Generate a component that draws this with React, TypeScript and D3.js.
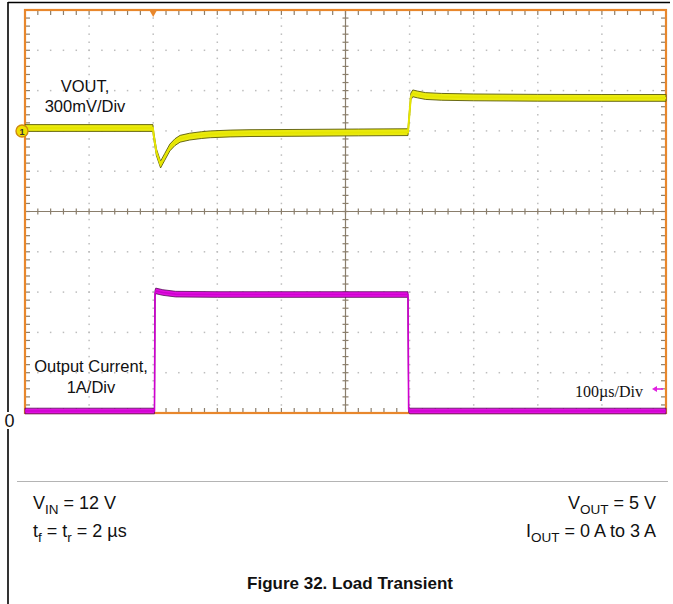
import * as d3 from "d3";
import React, { useEffect, useRef } from "react";

const W = 673;
const H = 604;

// scope screen area
const scrL = 25;
const scrR = 666;
const scrT = 10;
const scrB = 413;
const nX = 10;
const nY = 10;

// 100 us/div -> 0..1000 us across the screen
const timeDomain = [0, 1000];

// VOUT in mV, relative to the level before the load step (300 mV/div)
const voutT = [0, 199.5, 201, 205, 211.5, 218, 226, 234, 242, 257, 275, 289, 320, 351, 429, 520, 597.5, 599.5, 602, 605, 612, 625, 650, 700, 800, 900, 1000];
const voutMv = [0, 0, -60, -180, -272, -215, -145, -105, -80, -64, -53, -47, -41, -38, -36, -33, -31, 90, 235, 258, 250, 238, 232, 228, 225, 224, 224];

// output current in A (1 A/div)
const ioutT = [0, 202, 202.8, 204, 215, 235, 300, 597.5, 598.5, 600, 1000];
const ioutA = [0, 0, 2.92, 2.98, 2.94, 2.9, 2.89, 2.89, 0.04, 0, 0];

const voutLabel = ["VOUT,", "300mV/Div"];
const ioutLabel = ["Output Current,", "1A/Div"];
const timeLabel = "100\u00b5s/Div";
const zeroLabel = "0";
const figTitle = "Figure 32. Load Transient";

const orange = "#e8872c";
const axisCol = "#8a7e6c";
const dotCol = "#bdbdbd";
const sans = "'Liberation Sans', Arial, sans-serif";

export default function App() {
    const svgRef = useRef<SVGSVGElement | null>(null);

    useEffect(() => {
        if (!svgRef.current) return;
        const svg = d3.select(svgRef.current);
        svg.selectAll("*").remove();

        const dx = (scrR - scrL) / nX;
        const dy = (scrB - scrT) / nY;
        const x = d3.scaleLinear().domain(timeDomain).range([scrL, scrR]);
        const yV = d3.scaleLinear().domain([0, 300]).range([128, 128 - dy]);
        const yI = d3.scaleLinear().domain([0, 1]).range([411, 411 - dy]);
        const cx = scrL + dx * 5;
        const cy = scrT + dy * 5;

        /* ---------- page frame ---------- */
        svg.append("rect").attr("width", W).attr("height", H).attr("fill", "#fff");
        svg.append("line").attr("x1", 8).attr("x2", 670).attr("y1", 2.5).attr("y2", 2.5)
            .attr("stroke", "#000").attr("stroke-width", 1.6);
        svg.append("line").attr("x1", 8).attr("x2", 8).attr("y1", 2).attr("y2", H)
            .attr("stroke", "#000").attr("stroke-width", 1.6);

        /* ---------- dotted graticule ---------- */
        const dots = svg.append("g").attr("fill", dotCol);
        for (let k = 1; k < nX; k++) {
            if (k === 5) continue;
            const gx = scrL + k * dx;
            for (let j = 1; j < nY * 5; j++) {
                dots.append("rect").attr("x", gx - 0.75).attr("y", scrT + j * dy / 5 - 0.75)
                    .attr("width", 1.5).attr("height", 1.5);
            }
        }
        for (let k = 1; k < nY; k++) {
            if (k === 5) continue;
            const gy = scrT + k * dy;
            for (let j = 1; j < nX * 5; j++) {
                dots.append("rect").attr("x", scrL + j * dx / 5 - 0.75).attr("y", gy - 0.75)
                    .attr("width", 1.5).attr("height", 1.5);
            }
        }

        /* ---------- centre axes + frame ticks ---------- */
        const ax = svg.append("g").attr("stroke", axisCol).attr("stroke-width", 1.2);
        ax.append("line").attr("x1", cx).attr("x2", cx).attr("y1", scrT).attr("y2", scrB);
        ax.append("line").attr("x1", scrL).attr("x2", scrR).attr("y1", cy).attr("y2", cy);
        for (let j = 1; j < nX * 5; j++) {
            const tx = scrL + j * dx / 5;
            ax.append("line").attr("x1", tx).attr("x2", tx).attr("y1", cy - 3).attr("y2", cy + 3);
            ax.append("line").attr("x1", tx).attr("x2", tx).attr("y1", scrT).attr("y2", scrT + 5);
            ax.append("line").attr("x1", tx).attr("x2", tx).attr("y1", scrB - 5).attr("y2", scrB);
        }
        for (let j = 1; j < nY * 5; j++) {
            const ty = scrT + j * dy / 5;
            ax.append("line").attr("x1", cx - 3).attr("x2", cx + 3).attr("y1", ty).attr("y2", ty);
            ax.append("line").attr("x1", scrL).attr("x2", scrL + 5).attr("y1", ty).attr("y2", ty);
            ax.append("line").attr("x1", scrR - 5).attr("x2", scrR).attr("y1", ty).attr("y2", ty);
        }

        /* ---------- screen border ---------- */
        svg.append("rect").attr("x", scrL).attr("y", scrT)
            .attr("width", scrR - scrL).attr("height", scrB - scrT)
            .attr("fill", "none").attr("stroke", orange).attr("stroke-width", 2.2);

        /* ---------- traces ---------- */
        const voutPts = voutT.map((t, i) => [x(t), yV(voutMv[i])] as [number, number]);
        const ioutPts = ioutT.map((t, i) => [x(t), yI(ioutA[i])] as [number, number]);

        const band = (h: number) =>
            d3.area<[number, number]>().x((d) => d[0]).y0((d) => d[1] + h).y1((d) => d[1] - h);
        const line = d3.line<[number, number]>().x((d) => d[0]).y((d) => d[1]);

        svg.append("path").attr("d", band(2.8)(ioutPts)!)
            .attr("fill", "#e010e0").attr("stroke", "#5a0a5a").attr("stroke-width", 0.8);
        svg.append("path").attr("d", line(ioutPts)!)
            .attr("fill", "none").attr("stroke", "#d000d0").attr("stroke-width", 1.6);

        svg.append("path").attr("d", band(3.4)(voutPts)!)
            .attr("fill", "#eaea10").attr("stroke", "#5a5a08").attr("stroke-width", 0.9);
        svg.append("path").attr("d", line(voutPts)!)
            .attr("fill", "none").attr("stroke", "#e6e600").attr("stroke-width", 2);

        /* ---------- markers ---------- */
        const trigX = x(200);
        svg.append("path")
            .attr("d", `M${trigX - 4.5},${scrT - 1} L${trigX + 4.5},${scrT - 1} L${trigX},${scrT + 7} Z`)
            .attr("fill", orange);

        svg.append("circle").attr("cx", 22).attr("cy", 131).attr("r", 6)
            .attr("fill", "#f0e000").attr("stroke", "#d08a10").attr("stroke-width", 1.4);
        svg.append("text").attr("x", 22).attr("y", 134.5).attr("text-anchor", "middle")
            .attr("font-family", sans).attr("font-size", "9px").attr("font-weight", "bold")
            .attr("fill", "#333").text("1");

        const arrY = 389;
        svg.append("line").attr("x1", 656).attr("x2", 663).attr("y1", arrY).attr("y2", arrY)
            .attr("stroke", "#e020e0").attr("stroke-width", 1.6);
        svg.append("path").attr("d", `M652,${arrY} L657,${arrY - 3} L657,${arrY + 3} Z`)
            .attr("fill", "#e020e0");

        /* ---------- labels ---------- */
        const lab = (tx: number, ty: number, s: string, anchor = "middle") =>
            svg.append("text").attr("x", tx).attr("y", ty).attr("text-anchor", anchor)
                .attr("font-family", sans).attr("font-size", "16.5px").attr("fill", "#111").text(s);

        lab(85, 92, voutLabel[0]);
        lab(85, 112, voutLabel[1]);
        lab(91, 372, ioutLabel[0]);
        lab(91, 393, ioutLabel[1]);

        svg.append("text").attr("x", 643).attr("y", 397).attr("text-anchor", "end")
            .attr("font-family", "'Liberation Serif', 'Times New Roman', serif")
            .attr("font-size", "16px").attr("fill", "#111").text(timeLabel);

        svg.append("rect").attr("x", 3).attr("y", 412).attr("width", 13).attr("height", 17).attr("fill", "#fff");
        lab(9.5, 427, zeroLabel).attr("font-size", "18px");

        /* ---------- conditions ---------- */
        svg.append("line").attr("x1", 17).attr("x2", 668).attr("y1", 481.5).attr("y2", 481.5)
            .attr("stroke", "#b4b4b4").attr("stroke-width", 1);

        const cond = (tx: number, ty: number, anchor: string, parts: [string, boolean][]) => {
            const t = svg.append("text").attr("x", tx).attr("y", ty).attr("text-anchor", anchor)
                .attr("font-family", sans).attr("font-size", "18px").attr("fill", "#111");
            let sub = false;
            parts.forEach(([s, isSub]) => {
                const sp = t.append("tspan").text(s);
                if (isSub && !sub) sp.attr("dy", 4.5).attr("font-size", "13.5px");
                else if (!isSub && sub) sp.attr("dy", -4.5);
                else if (isSub) sp.attr("font-size", "13.5px");
                sub = isSub;
            });
        };

        cond(33, 509, "start", [["V", false], ["IN", true], [" = 12 V", false]]);
        cond(33, 537, "start", [["t", false], ["f", true], [" = t", false], ["r", true], [" = 2 \u00b5s", false]]);
        cond(656, 509, "end", [["V", false], ["OUT", true], [" = 5 V", false]]);
        cond(656, 537, "end", [["I", false], ["OUT", true], [" = 0 A to 3 A", false]]);

        svg.append("text").attr("x", 350).attr("y", 589).attr("text-anchor", "middle")
            .attr("font-family", sans).attr("font-size", "17px").attr("font-weight", "bold")
            .attr("fill", "#111").text(figTitle);
    }, []);

    return (
        <svg
            ref={svgRef}
            width={W}
            height={H}
            viewBox={`0 0 ${W} ${H}`}
            style={{ position: "absolute", left: 0, top: 0, display: "block" }}
        />
    );
}
